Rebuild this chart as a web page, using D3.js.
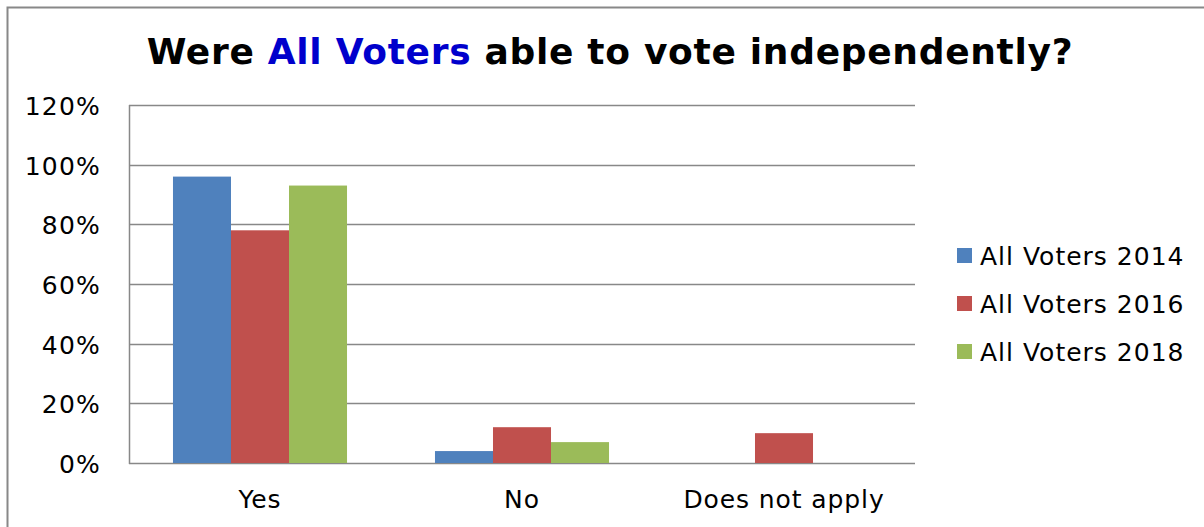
<!DOCTYPE html>
<html>
<head>
<meta charset="utf-8">
<script src="https://cdn.jsdelivr.net/npm/d3@7"></script>
<style>
  html, body { margin: 0; padding: 0; background: #fff; }
  svg { display: block; font-family: "DejaVu Sans", Verdana, sans-serif; }
</style>
</head>
<body>
<svg id="chart" width="1204" height="527"></svg>
<script>
// Survey answers, as shares of respondents
const categories = ["Yes", "No", "Does not apply"];
const seriesNames = ["All Voters 2014", "All Voters 2016", "All Voters 2018"];
const values2014 = [0.96, 0.04, 0];
const values2016 = [0.78, 0.12, 0.10];
const values2018 = [0.93, 0.07, 0];
const yTicks = [0, 0.2, 0.4, 0.6, 0.8, 1.0, 1.2];
const seriesColors = ["#4f81bd", "#c0504d", "#9bbb59"];

const seriesValues = [values2014, values2016, values2018];
const rows = categories.map((c, i) => ({
  category: c,
  values: seriesNames.map((s, j) => ({ series: s, index: j, value: seriesValues[j][i] }))
}));

const svg = d3.select("#chart");
const W = 1204, H = 527;

// outer frame
svg.append("rect")
  .attr("x", 7.5).attr("y", 7.5)
  .attr("width", W).attr("height", H)
  .attr("fill", "#fff").attr("stroke", "#888").attr("stroke-width", 2);

const plot = { left: 129, right: 915, top: 105, bottom: 463 };

const x = d3.scaleBand().domain(categories).range([plot.left, plot.right]).paddingInner(0).paddingOuter(0);
const x1 = d3.scaleBand().domain(seriesNames).range([0, x.bandwidth()]).paddingInner(0).paddingOuter(0.758);
const y = d3.scaleLinear().domain([0, 1.2]).range([plot.bottom, plot.top]);

// gridlines
svg.append("g")
  .selectAll("line").data(yTicks).join("line")
  .attr("x1", plot.left).attr("x2", plot.right)
  .attr("y1", d => Math.round(y(d)) + 0.5).attr("y2", d => Math.round(y(d)) + 0.5)
  .attr("stroke", "#888").attr("stroke-width", 1.5);

// y axis line
svg.append("line")
  .attr("x1", plot.left + 0.5).attr("x2", plot.left + 0.5)
  .attr("y1", plot.top).attr("y2", plot.bottom + 1)
  .attr("stroke", "#888").attr("stroke-width", 1.5);

// bars
svg.append("g")
  .selectAll("g").data(rows).join("g")
  .attr("transform", d => `translate(${x(d.category)},0)`)
  .selectAll("rect").data(d => d.values.filter(v => v.value > 0)).join("rect")
  .attr("x", d => x1(d.series))
  .attr("width", x1.bandwidth())
  .attr("y", d => y(d.value))
  .attr("height", d => y(0) - y(d.value))
  .attr("fill", d => seriesColors[d.index]);

// y tick labels
const fmt = d3.format(".0%");
svg.append("g")
  .selectAll("text").data(yTicks).join("text")
  .attr("x", 101).attr("y", d => y(d) + 10)
  .attr("text-anchor", "end")
  .attr("font-size", 25).attr("letter-spacing", 1.2).attr("fill", "#000")
  .text(d => fmt(d));

// category labels
svg.append("g")
  .selectAll("text").data(categories).join("text")
  .attr("x", d => x(d) + x.bandwidth() / 2).attr("y", 508)
  .attr("text-anchor", "middle")
  .attr("font-size", 25).attr("letter-spacing", 0.9).attr("fill", "#000")
  .text(d => d);

// title
const title = svg.append("text")
  .attr("x", 610).attr("y", 64)
  .attr("text-anchor", "middle")
  .attr("font-size", 36).attr("font-weight", "bold").attr("letter-spacing", 0.7).attr("fill", "#000");
title.append("tspan").text("Were ");
title.append("tspan").attr("fill", "#0000cc").text("All Voters");
title.append("tspan").text(" able to vote independently?");

// legend
const legend = svg.append("g")
  .selectAll("g").data(seriesNames).join("g")
  .attr("transform", (d, i) => `translate(957,${248 + i * 48})`);
legend.append("rect")
  .attr("width", 15).attr("height", 15)
  .attr("fill", (d, i) => seriesColors[i]);
legend.append("text")
  .attr("x", 23).attr("y", 17)
  .attr("font-size", 25).attr("letter-spacing", 1).attr("fill", "#000")
  .text(d => d);
</script>
</body>
</html>
